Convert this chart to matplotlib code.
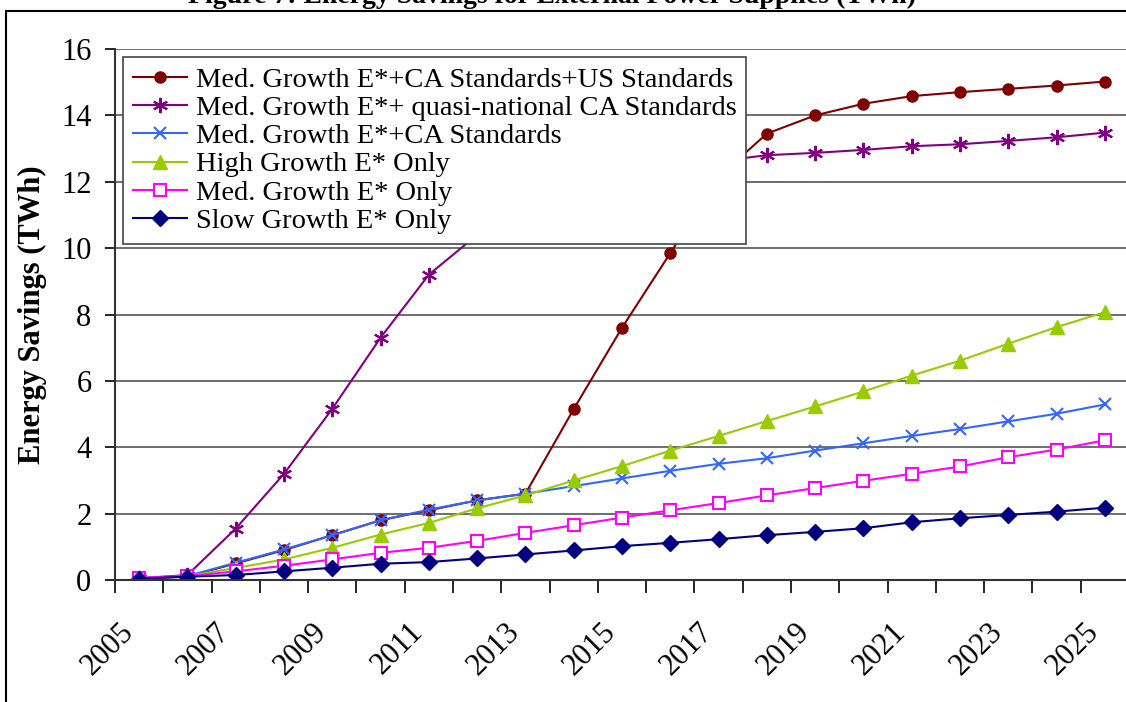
import numpy as np
import matplotlib
matplotlib.use('Agg')
import matplotlib.pyplot as plt
from matplotlib.patches import Rectangle

years = list(range(2005, 2026))

# TWh savings per scenario
us_std = [0.05, 0.1, 0.5, 0.9, 1.35, 1.8, 2.1, 2.4, 2.6, 5.15, 7.6, 9.85,
          12.15, 13.45, 14.0, 14.35, 14.58, 14.7, 14.8, 14.9, 15.02]
quasi = [0.05, 0.15, 1.55, 3.2, 5.16, 7.3, 9.2, 10.4, 11.35, 11.95, 12.3, 12.5,
         12.62, 12.8, 12.87, 12.96, 13.07, 13.13, 13.23, 13.34, 13.48]
ca_std = [0.05, 0.12, 0.52, 0.92, 1.35, 1.8, 2.12, 2.4, 2.6, 2.83, 3.06, 3.29,
          3.5, 3.67, 3.9, 4.12, 4.34, 4.55, 4.78, 5.01, 5.29]
high = [0.03, 0.12, 0.36, 0.62, 0.97, 1.37, 1.72, 2.16, 2.55, 3.0, 3.43, 3.9,
        4.34, 4.79, 5.23, 5.68, 6.16, 6.61, 7.12, 7.62, 8.07]
med = [0.07, 0.12, 0.26, 0.43, 0.62, 0.82, 0.97, 1.18, 1.42, 1.65, 1.88, 2.1,
       2.32, 2.55, 2.77, 2.99, 3.2, 3.42, 3.7, 3.93, 4.21]
slow = [0.04, 0.1, 0.15, 0.26, 0.37, 0.49, 0.54, 0.65, 0.77, 0.89, 1.02, 1.12,
        1.23, 1.35, 1.45, 1.56, 1.74, 1.86, 1.96, 2.06, 2.18]

labels = ['Med. Growth E*+CA Standards+US Standards',
          'Med. Growth E*+ quasi-national CA Standards',
          'Med. Growth E*+CA Standards',
          'High Growth E* Only',
          'Med. Growth E* Only',
          'Slow Growth E* Only']

plt.rcParams['font.family'] = ['Liberation Serif', 'DejaVu Serif']

fig = plt.figure(figsize=(11.26, 7.02), dpi=100)
ax = fig.add_axes([115 / 1126, 1 - 580 / 702, 1014 / 1126, 531 / 702])

x = np.arange(len(years))
ax.plot(x, us_std, color='#800000', marker='o', ms=8, lw=1.5, label=labels[0])
ax.plot(x, quasi, color='#800080', marker=(6, 2, 0), ms=11, mew=1.5, lw=1.5, label=labels[1])
ax.plot(x, ca_std, color='#3366FF', marker='x', ms=9, mew=1.5, lw=1.5, label=labels[2])
ax.plot(x, high, color='#99CC00', marker='^', ms=10, lw=1.5, label=labels[3])
ax.plot(x, med, color='#FF00FF', marker='s', ms=8, mfc='white', mew=1.5, lw=1.5, label=labels[4])
ax.plot(x, slow, color='#000080', marker='D', ms=8, lw=1.5, label=labels[5])

ax.set_xlim(-0.5, len(years) - 0.5)
ax.set_ylim(0, 16)
ax.set_yticks(range(0, 17, 2))
ax.tick_params(axis='y', labelsize=22, length=7, width=1.2, direction='out', pad=10)

ax.set_xticks(x[::2])
ax.set_xticklabels([str(y) for y in years[::2]], rotation=45, ha='right', va='top')
ax.set_xticks(np.arange(-0.5, len(years) + 0.5, 1), minor=True)
ax.tick_params(axis='x', which='major', length=0, labelsize=22, pad=27)
ax.tick_params(axis='x', which='minor', length=9, width=1.2, direction='out')

ax.grid(axis='y', color='#555555', lw=1.2)
ax.set_axisbelow(True)
for s in ['top', 'right']:
    ax.spines[s].set_visible(False)
for s in ['left', 'bottom']:
    ax.spines[s].set_color('#333333')
    ax.spines[s].set_linewidth(1.5)

ax.set_ylabel('Energy Savings (TWh)', fontsize=22, fontweight='bold', labelpad=10)

leg = ax.legend(loc='upper left', bbox_to_anchor=(0.008, 0.985), borderaxespad=0,
                fontsize=20.5, frameon=True, fancybox=False, framealpha=1,
                labelspacing=0.08, handlelength=1.9, handletextpad=0.3, borderpad=0.35)
leg.get_frame().set_edgecolor('#444444')
leg.get_frame().set_linewidth(1.2)

fig.text(0.49, 1 - 3 / 702, 'Figure 7: Energy Savings for External Power Supplies (TWh)',
         fontsize=20, fontweight='bold', ha='center', va='baseline')
fig.patches.append(Rectangle((6 / 1126, -0.05), 1.1, 1.05 - 11 / 702, transform=fig.transFigure,
                             fill=False, edgecolor='black', lw=1.5))

fig.savefig('out.png', dpi=100)
